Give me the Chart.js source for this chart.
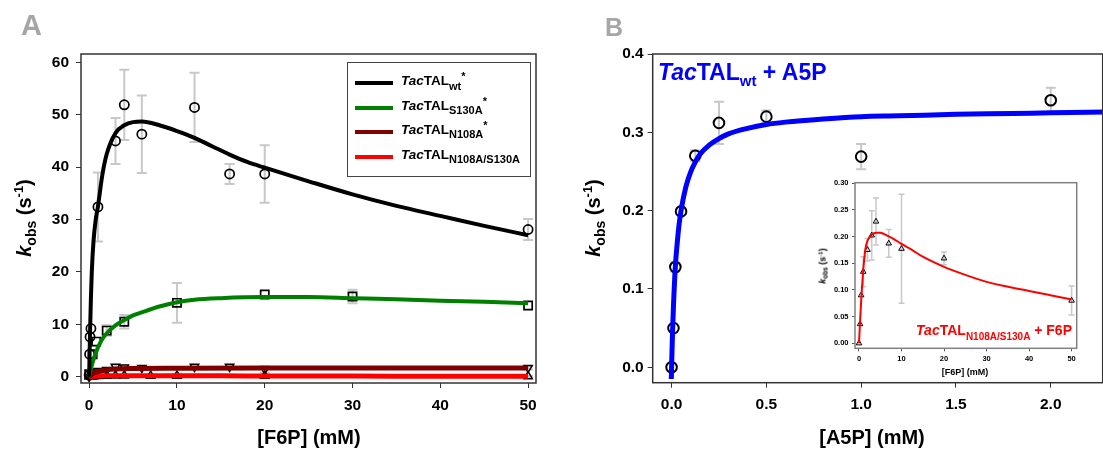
<!DOCTYPE html>
<html><head><meta charset="utf-8">
<script src="https://cdn.jsdelivr.net/npm/chart.js@4.4.1/dist/chart.umd.min.js"></script>
<style>
html,body{margin:0;padding:0;background:#fff;width:1103px;height:449px;overflow:hidden;position:relative}
canvas{position:absolute}
.t{position:absolute;white-space:nowrap;font-family:"Liberation Sans",Arial,sans-serif;font-weight:bold;line-height:1;color:#000}
.t i{font-style:italic}
.sb{position:relative;line-height:0}
.yt{transform:translate(-50%,-50%) rotate(-90deg)}
.xt{transform:translateX(-50%)}
.rt{transform:translateX(-100%)}
.lg{position:absolute;height:4px;width:38px;left:355px}
</style></head><body>
<canvas id="cA" width="560" height="449" style="left:0;top:0"></canvas>
<canvas id="cB" width="550" height="449" style="left:560px;top:0"></canvas>
<canvas id="cI" width="290" height="215" style="left:800px;top:170px"></canvas>

<div class="t" style="left:21px;top:11px;font-size:29px;color:#a6a6a6">A</div>
<div class="t" style="left:605px;top:15px;font-size:25px;color:#a6a6a6">B</div>

<div class="t yt" style="left:24px;top:218px;font-size:20px"><i>k</i><span class="sb" style="font-size:14px;top:5px">obs</span> (s<span class="sb" style="font-size:13px;top:-8px">-1</span>)</div>
<div class="t xt" style="left:309px;top:427px;font-size:20px">[F6P] (mM)</div>
<div class="t yt" style="left:593px;top:218px;font-size:20px"><i>k</i><span class="sb" style="font-size:14px;top:5px">obs</span> (s<span class="sb" style="font-size:13px;top:-8px">-1</span>)</div>
<div class="t xt" style="left:872px;top:427px;font-size:20px">[A5P] (mM)</div>

<div style="position:absolute;left:347px;top:62px;width:184px;height:115px;border:1.5px solid #444;box-sizing:border-box"></div>
<div class="lg" style="top:81px;background:#000"></div>
<div class="lg" style="top:106px;background:#008000"></div>
<div class="lg" style="top:130px;background:#800000"></div>
<div class="lg" style="top:155px;background:#ff0000"></div>
<div class="t" style="left:401px;top:74px;font-size:13.5px"><i>Tac</i>TAL<span class="sb" style="font-size:11px;top:4.5px">wt</span><span class="sb" style="font-size:11px;top:-5px">*</span></div>
<div class="t" style="left:401px;top:98.5px;font-size:13.5px"><i>Tac</i>TAL<span class="sb" style="font-size:11px;top:4.5px">S130A</span><span class="sb" style="font-size:11px;top:-5px">*</span></div>
<div class="t" style="left:401px;top:122.5px;font-size:13.5px"><i>Tac</i>TAL<span class="sb" style="font-size:11px;top:4.5px">N108A</span><span class="sb" style="font-size:11px;top:-5px">*</span></div>
<div class="t" style="left:401px;top:147.5px;font-size:13.5px"><i>Tac</i>TAL<span class="sb" style="font-size:11px;top:4.5px">N108A/S130A</span></div>

<div class="t" style="left:658px;top:61px;font-size:23px;color:#0000ff"><i>Tac</i>TAL<span class="sb" style="font-size:15px;top:6px">wt</span> + A5P</div>
<div class="t rt" style="left:1072px;top:323px;font-size:14px;color:#ff0000"><i>Tac</i>TAL<span class="sb" style="font-size:10px;top:5px">N108A/S130A</span> + F6P</div>

<div class="t yt" style="left:823px;top:266px;font-size:9px"><i>k</i><span class="sb" style="font-size:6.5px;top:2px">obs</span> (s<span class="sb" style="font-size:6px;top:-3.5px">-1</span>)</div>
<div class="t xt" style="left:965px;top:368px;font-size:9px">[F6P] (mM)</div>

<script>
// ---------- Panel A data ----------
const A_xTicks = [0, 10, 20, 30, 40, 50];
const A_yTicks = [0, 10, 20, 30, 40, 50, 60];

const wtX   = [0, 0.05, 0.1, 0.2, 1, 3, 4, 6, 12, 16, 20, 50];
const wtY   = [0.3, 4.3, 7.6, 9.2, 32.4, 45.0, 51.9, 46.3, 51.4, 38.7, 38.7, 28.1];
const wtErr = [0, 0, 0, 0, 6.6, 4.4, 6.7, 7.4, 6.6, 1.9, 5.5, 2.0];
const wtFitX = [0, 0.05, 0.1, 0.2, 0.3, 0.5, 0.75, 1, 1.5, 2, 3, 4, 5, 6, 8, 10, 12, 14, 16, 18, 20, 25, 30, 35, 40, 45, 50];
const wtFitY = [0, 4.5, 8.5, 15, 20, 26, 30, 32.5, 38.5, 42.5, 46.5, 48, 48.6, 48.7, 48, 46.9, 45.6, 44, 42.4, 41, 39.9, 37.3, 34.8, 32.6, 30.7, 28.8, 27.0];

const s130X   = [0, 0.4, 0.8, 2, 4, 10, 20, 30, 50];
const s130Y   = [0.5, 4.3, 6.7, 8.8, 10.5, 14.1, 15.7, 15.3, 13.6];
const s130Err = [0, 0, 0, 1.0, 1.3, 3.8, 0, 1.3, 0];
const s130FitX = [0, 0.2, 0.5, 1, 1.5, 2, 3, 4, 5, 6, 8, 10, 12, 15, 20, 25, 30, 35, 40, 45, 50];
const s130FitY = [0, 1.5, 3.3, 5.6, 7.2, 8.3, 9.8, 10.8, 11.7, 12.3, 13.4, 14.2, 14.7, 15.0, 15.2, 15.2, 15.0, 14.8, 14.5, 14.3, 14.0];

const n108X   = [0, 0.25, 0.5, 1, 2, 3, 4, 6, 12, 16, 20, 50];
const n108Y   = [0, 0.5, 0.8, 1.1, 1.3, 1.9, 1.8, 1.7, 1.9, 1.9, 1.4, 1.7];
const n108Err = [0, 0, 0, 0, 0, 0.4, 0.3, 0.3, 0.3, 0.2, 0.6, 0.3];
const n108FitX = [0, 0.2, 0.5, 1, 2, 3, 5, 10, 20, 30, 50];
const n108FitY = [0, 0.35, 0.7, 1.0, 1.3, 1.45, 1.55, 1.6, 1.65, 1.65, 1.65];

// N108A/S130A (panel A and inset)
const dmX   = [0, 0.25, 0.5, 1, 2, 3, 4, 7, 10, 20, 50];
const dmY   = [0, 0.036, 0.090, 0.134, 0.175, 0.202, 0.228, 0.187, 0.177, 0.159, 0.080];
const dmErr = [0, 0, 0, 0.028, 0.021, 0.046, 0.044, 0.026, 0.102, 0.012, 0.027];
const dmErrA = [0, 0, 0, 0, 0, 0, 0, 0.3, 0.4, 0.4, 0.1];
const dmFitX = [0, 0.25, 0.5, 1, 1.5, 2, 3, 4, 5, 6, 7, 8, 10, 12, 15, 20, 25, 30, 35, 40, 45, 50];
const dmFitY = [0, 0.04, 0.078, 0.137, 0.176, 0.192, 0.203, 0.207, 0.207, 0.204, 0.2, 0.196, 0.186, 0.177, 0.162, 0.143, 0.128, 0.115, 0.106, 0.098, 0.09, 0.082];

// ---------- Panel B data ----------
const B_xTicks = [0, 0.5, 1.0, 1.5, 2.0];
const B_yTicks = [0, 0.1, 0.2, 0.3, 0.4];
const bX   = [0, 0.01, 0.02, 0.05, 0.125, 0.25, 0.5, 1.0, 2.0];
const bY   = [0, 0.050, 0.128, 0.199, 0.270, 0.312, 0.320, 0.269, 0.341];
const bErr = [0, 0, 0.006, 0, 0.007, 0.027, 0.008, 0.016, 0.016];
const bFitX = [-0.0013, 0, 0.005, 0.01, 0.02, 0.03, 0.04, 0.05, 0.075, 0.1, 0.125, 0.15, 0.2, 0.25, 0.3, 0.4, 0.5, 0.6, 0.8, 1.0, 1.2, 1.5, 1.8, 2.0, 2.3];
const bFitY = [-0.015, 0, 0.044, 0.078, 0.129, 0.159, 0.183, 0.200, 0.230, 0.249, 0.262, 0.272, 0.284, 0.292, 0.298, 0.305, 0.310, 0.313, 0.317, 0.320, 0.321, 0.323, 0.324, 0.325, 0.326];

const I_xTicks = [0, 10, 20, 30, 40, 50];
const I_yTicks = [0, 0.05, 0.10, 0.15, 0.20, 0.25, 0.30];

// ---------- helpers ----------
const FONT = '"Liberation Sans", Arial, sans-serif';
const zip = (xs, ys) => xs.map((x, i) => ({x: x, y: ys[i]}));

const boxPlugin = {
  id: 'box',
  afterDraw(chart, args, o) {
    const {ctx, chartArea: a} = chart;
    ctx.save();
    ctx.strokeStyle = o.color; ctx.lineWidth = o.width;
    ctx.strokeRect(a.left, a.top, a.right - a.left, a.bottom - a.top);
    ctx.restore();
  }
};
const errPlugin = {
  id: 'errbars',
  beforeDatasetsDraw(chart, args, o) {
    const {ctx} = chart; const x = chart.scales.x, y = chart.scales.y;
    ctx.save(); ctx.strokeStyle = o.color; ctx.lineWidth = o.width;
    chart.data.datasets.forEach(ds => {
      if (!ds.errorBars) return;
      ds.data.forEach((p, i) => {
        const e = ds.errorBars[i]; if (!e) return;
        const px = x.getPixelForValue(p.x), y1 = y.getPixelForValue(p.y + e), y2 = y.getPixelForValue(p.y - e);
        ctx.beginPath();
        ctx.moveTo(px, y1); ctx.lineTo(px, y2);
        ctx.moveTo(px - o.cap, y1); ctx.lineTo(px + o.cap, y1);
        ctx.moveTo(px - o.cap, y2); ctx.lineTo(px + o.cap, y2);
        ctx.stroke();
      });
    });
    ctx.restore();
  }
};

function axis(min, max, tickVals, fmt, fs, tl, pad, size, isY, tickColor) {
  return {
    type: 'linear', min: min, max: max,
    afterBuildTicks: s => { s.ticks = tickVals.map(v => ({value: v})); },
    afterFit: s => { if (isY) s.width = size; else s.height = size; },
    grid: {display: true, drawOnChartArea: false, drawTicks: true, tickLength: tl, color: tickColor, lineWidth: 1},
    border: {display: false},
    ticks: {font: {family: FONT, size: fs, weight: 'bold'}, color: '#000', padding: pad,
            callback: v => fmt(v), maxRotation: 0, autoSkip: false}
  };
}
function curve(xs, ys, color, w) {
  return {data: zip(xs, ys), showLine: true, borderColor: color, borderWidth: w, pointRadius: 0,
          fill: false, cubicInterpolationMode: 'monotone'};
}
function marks(xs, ys, style, r, rot, bw, errs) {
  return {data: zip(xs, ys), showLine: false, pointStyle: style, pointRadius: r, pointRotation: rot,
          borderColor: '#000', backgroundColor: 'rgba(0,0,0,0)', pointBorderWidth: bw, borderWidth: bw, errorBars: errs};
}
function make(id, datasets, pad, xs, ys, box, err) {
  return new Chart(document.getElementById(id), {
    type: 'scatter',
    data: {datasets: datasets},
    options: {
      responsive: false, animation: false, events: [],
      layout: {padding: pad},
      plugins: {legend: {display: false}, tooltip: {enabled: false}, box: box, errbars: err},
      scales: {x: xs, y: ys}
    },
    plugins: [boxPlugin, errPlugin]
  });
}
const fInt = v => String(Math.round(v));

// ---------- Panel A ----------
make('cA', [
  curve(wtFitX, wtFitY, '#000000', 4),
  curve(s130FitX, s130FitY, '#008000', 4),
  curve(n108FitX, n108FitY, '#800000', 5),
  curve(dmFitX, dmFitY, '#ff0000', 5),
  marks(wtX, wtY, 'circle', 4.6, 0, 1.7, wtErr),
  marks(s130X, s130Y, 'rect', 5.8, 0, 1.7, s130Err),
  marks(n108X, n108Y, 'triangle', 4.8, 180, 1.5, n108Err),
  marks(dmX, dmY, 'triangle', 4.8, 0, 1.5, dmErrA)
], {left: 0, right: 24, top: 54, bottom: 0},
  axis(-0.93, 50.9, A_xTicks, fInt, 15.5, 5, 8, 66, false, '#333'),
  axis(-1.2, 61.6, A_yTicks, fInt, 15.5, 5, 7, 81, true, '#333'),
  {color: '#333', width: 1.5}, {color: '#c8c8c8', width: 2, cap: 5});

// ---------- Panel B ----------
make('cB', [
  curve(bFitX, bFitY, '#0000ff', 5),
  marks(bX, bY, 'circle', 5.3, 0, 2, bErr)
], {left: 0, right: 4, top: 54, bottom: 0},
  axis(-0.0995, 2.274, B_xTicks, v => v.toFixed(1), 15.5, 5, 8, 66.3, false, '#333'),
  axis(-0.0197, 0.4, B_yTicks, v => v.toFixed(1), 15.5, 5, 4, 92.7, true, '#333'),
  {color: '#333', width: 1.5}, {color: '#c8c8c8', width: 2, cap: 5});

// ---------- Inset ----------
make('cI', [
  curve(dmFitX, dmFitY, '#ff0000', 2),
  marks(dmX, dmY, 'triangle', 3.2, 0, 1, dmErr)
], {left: 0, right: 13.3, top: 12.7, bottom: 0},
  axis(-0.94, 51.2, I_xTicks, fInt, 7.5, 3, 3.5, 36.7, false, '#555'),
  axis(-0.0094, 0.3006, I_yTicks, v => v.toFixed(2), 7.5, 3, 3.5, 55, true, '#555'),
  {color: '#808080', width: 1.5}, {color: '#c8c8c8', width: 1.5, cap: 3});
</script>
</body></html>
